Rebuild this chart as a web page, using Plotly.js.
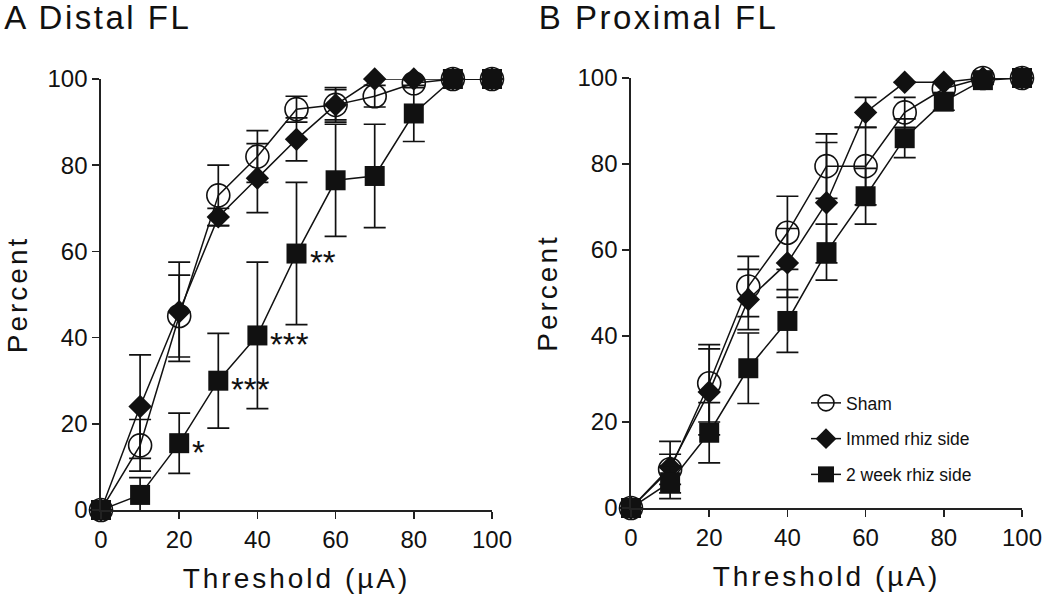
<!DOCTYPE html>
<html>
<head>
<meta charset="utf-8">
<script src="https://cdn.plot.ly/plotly-3.0.1.min.js"></script>
<style>
  html, body { margin: 0; padding: 0; background: #fff; }
  #chart { width: 1050px; height: 606px; }
  .xtitle, .x2title, .ytitle, .y2title { letter-spacing: 3px; }
  .annotation[data-index="0"] .annotation-text,
  .annotation[data-index="1"] .annotation-text { letter-spacing: 2.5px; }
</style>
</head>
<body>
<div id="chart"></div>
<script>
// ---- data ----
const thresholds = [0, 10, 20, 30, 40, 50, 60, 70, 80, 90, 100];
const tickVals = [0, 20, 40, 60, 80, 100];
const seriesNames = ["Sham", "Immed rhiz side", "2 week rhiz side"];

// A: Distal FL (percent)
const shamDistal      = [0, 15, 45, 73, 82, 93, 94, 96, 99, 100, 100];
const shamDistalErr   = [0, 6, 9.5, 7, 6, 3, 3.5, 2.5, 1, 0, 0];
const immedDistal     = [0, 24, 46, 68, 77, 86, 94, 100, 100, 100, 100];
const immedDistalErr  = [0, 12, 11.5, 2, 8, 5, 4, 0, 0, 0, 0];
const twoWkDistal     = [0, 3.5, 15.5, 30, 40.5, 59.5, 76.5, 77.5, 92, 100, 100];
const twoWkDistalErr  = [0, 4, 7, 11, 17, 16.5, 13, 12, 6.5, 0, 0];

// B: Proximal FL (percent)
const shamProx        = [0, 9, 29, 51.5, 64, 79.5, 79.5, 92, 97.5, 100, 100];
const shamProxErr     = [0, 3.5, 9, 7, 8.5, 7.5, 9, 3.5, 1.5, 1, 0];
const immedProx       = [0, 9.5, 27, 48.5, 57, 71, 92, 99, 99, 100, 100];
const immedProxErr    = [0, 6, 10, 7, 8, 14, 3.5, 0, 0, 0, 0];
const twoWkProx       = [0, 6, 17.5, 32.5, 43.5, 59.5, 72.5, 86, 94.5, 99.5, 100];
const twoWkProxErr    = [0, 3.8, 7, 8.2, 7.3, 6.5, 6.5, 4.5, 2, 1, 0];

// significance marks on 2-week series (panel A)
const starX = [20, 30, 40, 50];
const starText = ["*", "***", "***", "**"];

// ---- styles ----
const FONT = "Liberation Sans, Arial, Helvetica, sans-serif";
const INK = "#111";
const markerStyles = [
  { symbol: "circle-open", size: 23, color: INK, line: { color: INK, width: 1.6 } },
  { symbol: "diamond", size: 18, color: INK, line: { color: INK, width: 0 } },
  { symbol: "square", size: 20, color: INK, line: { color: INK, width: 0 } }
];

function makeTrace(y, err, idx, xa, ya, showLegend) {
  return {
    type: "scatter",
    mode: "lines+markers",
    x: thresholds,
    y: y,
    name: seriesNames[idx],
    legendgroup: "g" + idx,
    showlegend: showLegend,
    xaxis: xa,
    yaxis: ya,
    cliponaxis: false,
    line: { color: INK, width: 1.5 },
    marker: markerStyles[idx],
    error_y: { type: "data", array: err, visible: true, color: INK, thickness: 1.7, width: 11 }
  };
}

const traces = [
  makeTrace(shamDistal, shamDistalErr, 0, "x", "y", false),
  makeTrace(immedDistal, immedDistalErr, 1, "x", "y", false),
  makeTrace(twoWkDistal, twoWkDistalErr, 2, "x", "y", false),
  makeTrace(shamProx, shamProxErr, 0, "x2", "y2", true),
  makeTrace(immedProx, immedProxErr, 1, "x2", "y2", true),
  makeTrace(twoWkProx, twoWkProxErr, 2, "x2", "y2", true)
];

function xAxis(domain, anchor) {
  return {
    domain: domain, anchor: anchor, range: [0, 100],
    tickvals: tickVals, ticks: "outside", ticklen: 7, tickwidth: 1.6, tickcolor: "#222",
    showline: true, linecolor: "#222", linewidth: 1.7,
    showgrid: false, zeroline: false, fixedrange: true,
    tickfont: { family: FONT, size: 24, color: INK },
    title: { text: "Threshold (\u00b5A)", font: { family: FONT, size: 28, color: INK }, standoff: 17 }
  };
}
function yAxis(domain, anchor) {
  return {
    domain: domain, anchor: anchor, range: [0, 100],
    tickvals: tickVals, ticks: "outside", ticklen: 7, tickwidth: 1.6, tickcolor: "#222",
    showline: true, linecolor: "#222", linewidth: 1.7,
    showgrid: false, zeroline: false, fixedrange: true,
    tickfont: { family: FONT, size: 24, color: INK },
    title: { text: "Percent", font: { family: FONT, size: 28, color: INK }, standoff: 12 }
  };
}

const annotations = [
  { text: "A Distal FL", xref: "paper", yref: "paper", x: 98 / 1050, y: 1, xanchor: "center", yanchor: "top",
    yshift: 3, showarrow: false, font: { family: FONT, size: 33, color: INK } },
  { text: "B Proximal FL", xref: "paper", yref: "paper", x: 658 / 1050, y: 1, xanchor: "center", yanchor: "top",
    yshift: 3, showarrow: false, font: { family: FONT, size: 33, color: INK } }
];
starX.forEach((sx, i) => {
  const k = thresholds.indexOf(sx);
  annotations.push({
    text: starText[i], xref: "x", yref: "y", x: sx, y: twoWkDistal[k],
    xanchor: "left", yanchor: "middle", xshift: 11, yshift: -9, showarrow: false,
    font: { family: FONT, size: 33, color: INK }
  });
});

const layout = {
  width: 1050, height: 606,
  margin: { l: 0, r: 0, t: 0, b: 0 },
  paper_bgcolor: "#fff", plot_bgcolor: "rgba(0,0,0,0)",
  font: { family: FONT, color: INK },
  xaxis: xAxis([101 / 1050, 492 / 1050], "y"),
  yaxis: yAxis([96 / 606, 527 / 606], "x"),
  xaxis2: xAxis([631 / 1050, 1022 / 1050], "y2"),
  yaxis2: yAxis([98 / 606, 528 / 606], "x2"),
  showlegend: true,
  legend: {
    x: 806 / 1050, y: 221 / 606, xanchor: "left", yanchor: "top",
    bgcolor: "rgba(0,0,0,0)", borderwidth: 0,
    traceorder: "grouped", tracegroupgap: 10,
    font: { family: FONT, size: 17.5, color: INK }
  },
  annotations: annotations
};

Plotly.newPlot("chart", traces, layout, { staticPlot: true, displayModeBar: false });
</script>
</body>
</html>
